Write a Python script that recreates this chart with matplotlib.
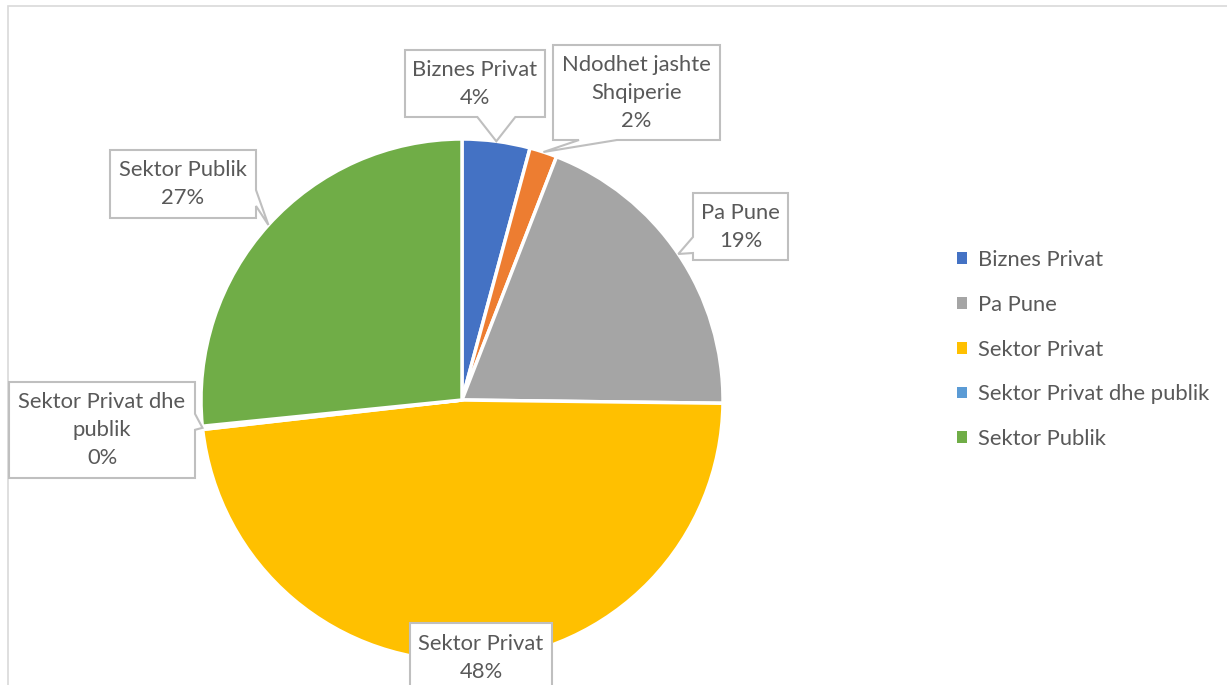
import numpy as np
import matplotlib
matplotlib.use('Agg')
import matplotlib.pyplot as plt
from matplotlib.patches import Polygon, Patch, Rectangle

plt.rcParams['font.family'] = ['Lato', 'DejaVu Sans']

categories = ['Biznes Privat', 'Ndodhet jashte Shqiperie', 'Pa Pune',
              'Sektor Privat', 'Sektor Privat dhe publik', 'Sektor Publik']
box_names = ['Biznes Privat', 'Ndodhet jashte\nShqiperie', 'Pa Pune',
             'Sektor Privat', 'Sektor Privat dhe\npublik', 'Sektor Publik']
values = [4.2, 1.7, 19.3, 48.0, 0.2, 26.6]
colors = ['#4472C4', '#ED7D31', '#A5A5A5', '#FFC000', '#5B9BD5', '#70AD47']
legend_idx = [0, 2, 3, 4, 5]

W, H = 1227, 685
TEXT = '#595959'
FS = 15.8

# callout boxes in image pixels (x0, y0, x1, y1), y measured from top
boxes = [(405, 50, 545, 117), (553, 45, 720, 140), (693, 193, 788, 260),
         (410, 623, 552, 693), (9, 382, 195, 478), (110, 150, 256, 218)]

fig = plt.figure(figsize=(W / 100, H / 100), dpi=100)
ax = fig.add_axes([0, 0, 1, 1])

cx, cy, r = 462, H - 400, 261
wedges, _ = ax.pie(values, colors=colors, startangle=90, counterclock=False,
                   center=(cx, cy), radius=r, frame=True,
                   wedgeprops=dict(edgecolor='white', linewidth=2.5))
ax.set_xlim(0, W)
ax.set_ylim(0, H)
ax.set_aspect('auto')
ax.axis('off')

# outer chart border (cropped on right and bottom)
ax.add_patch(Rectangle((8, -20), W + 20, H - 6 + 20, fill=False,
                       edgecolor='#D9D9D9', linewidth=1.2))


def callout(box, tip, text):
    x0, y1, x1, y0 = box[0], H - box[1], box[2], H - box[3]  # y0 bottom, y1 top
    tx, ty = tip
    dx = max(x0 - tx, tx - x1, 0)
    dy = max(y0 - ty, ty - y1, 0)
    TL, TR, BR, BL = (x0, y1), (x1, y1), (x1, y0), (x0, y0)
    if dx == 0 and dy == 0:
        pts = [TL, TR, BR, BL]
    elif dy >= dx and ty < y0:
        bx = np.clip(tx, x0 + 45, x1 - 45)
        pts = [TL, TR, BR, (bx + 19, y0), (tx, ty), (bx - 19, y0), BL]
    elif tx > x1:
        by = np.clip(ty + 6, y0 + 20, y1 - 15)
        pts = [TL, TR, (x1, by + 8), (tx, ty), (x1, by - 8), BR, BL]
    else:
        by = np.clip(ty + 8, y0 + 15, y1 - 15)
        pts = [TL, TR, BR, BL, (x0, by - 8), (tx, ty), (x0, by + 8)]
    ax.add_patch(Polygon(pts, closed=True, facecolor='white',
                         edgecolor='#BFBFBF', linewidth=1.5, zorder=3))
    ax.text((x0 + x1) / 2, (y0 + y1) / 2, text, ha='center', va='center',
            fontsize=FS, color=TEXT, linespacing=1.5, zorder=4)


total = sum(values)
for w, box, name, v in zip(wedges, boxes, box_names, values):
    mid = np.deg2rad((w.theta1 + w.theta2) / 2)
    tip = (cx + r * np.cos(mid), cy + r * np.sin(mid))
    callout(box, tip, f'{name}\n{round(v / total * 100)}%')

handles = [Patch(facecolor=colors[i]) for i in legend_idx]
labels = [categories[i] for i in legend_idx]
ax.legend(handles, labels, loc='upper left', bbox_to_anchor=(957 / W, 1 - 250 / H),
          frameon=False, fontsize=FS, labelcolor=TEXT, handlelength=0.45,
          handleheight=0.45, handletextpad=0.5, labelspacing=1.13,
          borderaxespad=0, borderpad=0)

fig.savefig('out.png', dpi=100)
